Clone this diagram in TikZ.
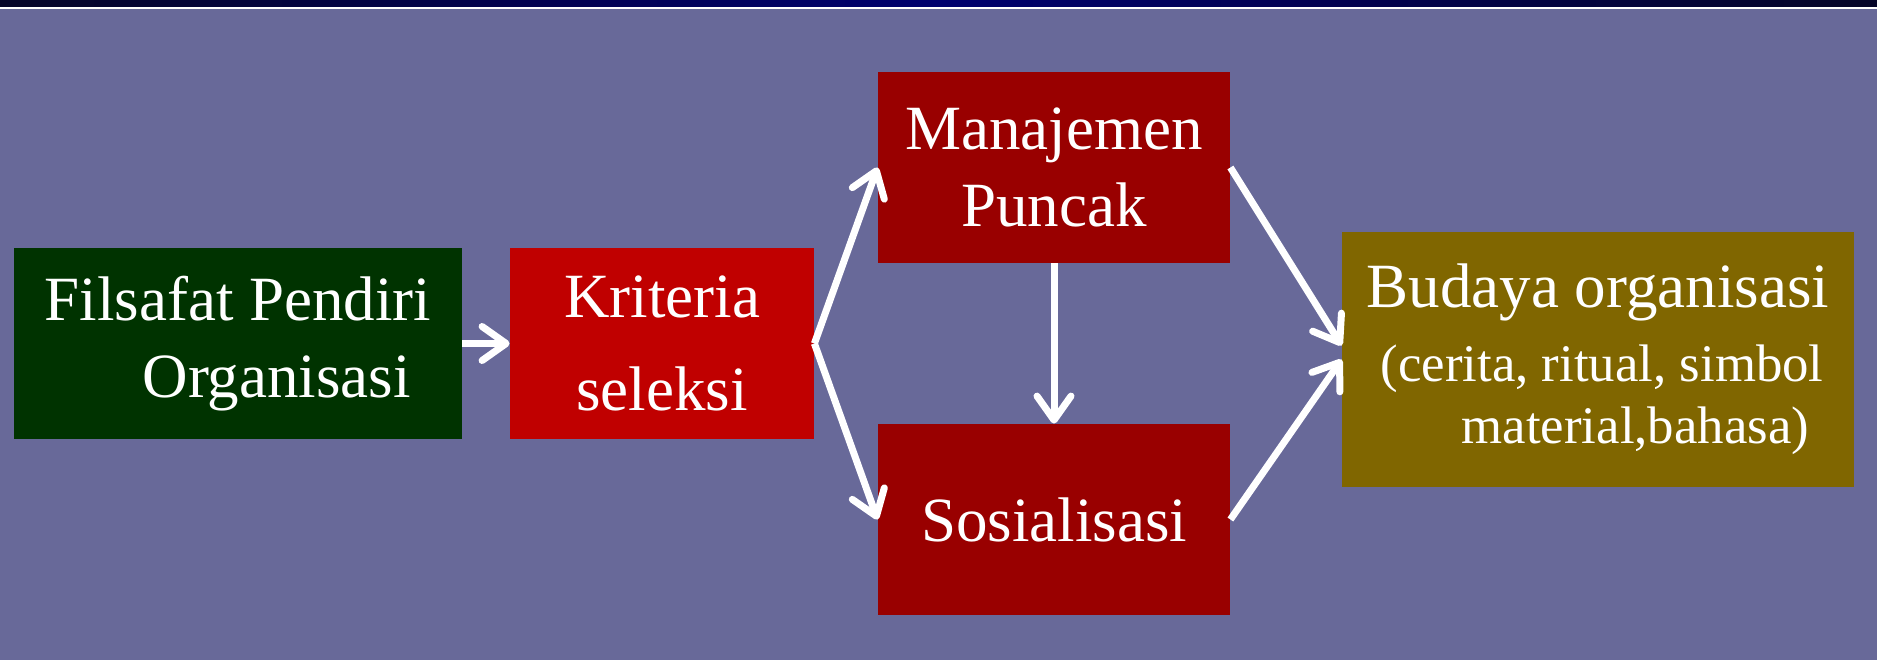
\documentclass[tikz,border=0pt]{standalone}
\usepackage{fontspec}
\setmainfont{Liberation Serif}
\usetikzlibrary{arrows.meta}
\definecolor{bgpurple}{RGB}{104,105,153}
\definecolor{navydark}{RGB}{5,5,40}
\definecolor{navymid}{RGB}{0,0,110}
\definecolor{boxgreen}{RGB}{0,51,0}
\definecolor{boxred}{RGB}{192,0,0}
\definecolor{boxmaroon}{RGB}{153,0,0}
\definecolor{boxolive}{RGB}{128,102,0}
\tikzset{
    box/.style={inner sep=0pt,text=white,font=\fontsize{31.5}{38.5}\selectfont,minimum height=95.5pt},
    flow/.style={white,line width=3.5pt,-{Straight Barb[length=12pt,width=17pt,round]}},
}

\begin{document}
\begin{tikzpicture}[x=0.5pt,y=-0.5pt]
            \useasboundingbox (0,0) rectangle (1877,660);
            \fill[bgpurple] (0,0) rectangle (1877,660);
            \shade[left color=navydark,right color=navydark,middle color=navymid] (0,0) rectangle (1877,7);
            \fill[white] (0,7) rectangle (1877,9);
            \node[box,fill=boxgreen,minimum width=224pt,align=left] (filsafat) at (238,343.5) {Filsafat Pendiri\\\hspace*{49pt}Organisasi};
            \node[box,fill=boxred,minimum width=152pt,align=center] (kriteria) at (662,343.5) {Kriteria\\[8pt]seleksi};
            \node[box,fill=boxmaroon,minimum width=176pt,align=center] (manajemen) at (1054,167.5) {Manajemen\\Puncak};
            \node[box,fill=boxmaroon,minimum width=176pt] (sosialisasi) at (1054,519.5) {Sosialisasi};
            \node[box,fill=boxolive,minimum width=256pt,minimum height=127.5pt,align=left,font=\fontsize{26.4}{31}\selectfont] (budaya) at (1598,359.5) {{\fontsize{31.5}{38.5}\selectfont Budaya organisasi}\\[6pt]\hspace*{7pt}(cerita, ritual, simbol\\\hspace*{47.5pt}material,bahasa)};
            \draw[flow] (filsafat) -- (kriteria);
            \draw[flow] (kriteria.east) -- (manajemen.west);
            \draw[flow] (kriteria.east) -- (sosialisasi.west);
            \draw[flow] (manajemen) -- (sosialisasi);
            \draw[flow] (manajemen.east) -- ([yshift=7pt]budaya.west);
            \draw[flow] (sosialisasi.east) -- (budaya.west);
        \end{tikzpicture}
\end{document}
